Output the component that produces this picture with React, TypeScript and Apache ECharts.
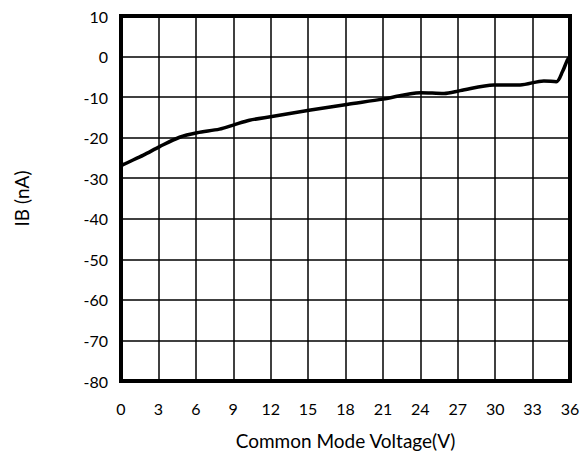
import React, { useEffect, useRef } from "react";
import * as echarts from "echarts";

const voltage = [0, 0.2, 1.8, 3.1, 4.7, 6.1, 7.9, 9.0, 10.3, 12.1, 15.2, 18.1, 21.0, 24.0, 25.9, 27.2, 29.9, 32.0, 33.9, 34.9, 35.4, 35.8, 36];
const ib = [-27, -26.6, -24.3, -22.2, -19.9, -18.8, -17.9, -16.9, -15.7, -14.8, -13.2, -11.8, -10.5, -8.9, -9.1, -8.4, -7.0, -7.0, -6.0, -6.2, -3.7, -0.8, 0];

export default function App() {
  const ref = useRef<HTMLDivElement>(null);
  useEffect(() => {
    const chart = echarts.init(ref.current!, null, { renderer: "svg" });
    const font = "Lato, 'Open Sans', sans-serif";
    chart.setOption({
      animation: false,
      backgroundColor: "#fff",
      grid: {
        left: 121, right: 12, top: 16, bottom: 74,
        outerBoundsMode: "none", containLabel: false,
        show: true, borderColor: "#000", borderWidth: 4, backgroundColor: "transparent",
      },
      xAxis: {
        type: "value", min: 0, max: 36, interval: 3,
        name: "Common Mode Voltage(V)", nameLocation: "middle", nameGap: 50,
        nameTextStyle: { fontFamily: font, fontSize: 19, color: "#000" },
        axisLine: { show: false }, axisTick: { show: false },
        axisLabel: { fontFamily: font, fontSize: 16, color: "#000", margin: 19 },
        splitLine: { show: true, lineStyle: { color: "#000", width: 1.5 } },
      },
      yAxis: {
        type: "value", min: -80, max: 10, interval: 10,
        name: "IB (nA)", nameLocation: "middle", nameGap: 90, nameRotate: 90,
        nameTextStyle: { fontFamily: font, fontSize: 19, color: "#000" },
        axisLine: { show: false }, axisTick: { show: false },
        axisLabel: { fontFamily: font, fontSize: 16, color: "#000", margin: 13 },
        splitLine: { show: true, lineStyle: { color: "#000", width: 1.5 } },
      },
      series: [{
        type: "line", smooth: 0.3, symbol: "none",
        data: voltage.map((v, i) => [v, ib[i]]),
        lineStyle: { color: "#000", width: 3.5 },
      }],
    });
    return () => chart.dispose();
  }, []);
  return <div ref={ref} style={{ position: "absolute", left: 0, top: 0, width: 582, height: 455 }} />;
}
